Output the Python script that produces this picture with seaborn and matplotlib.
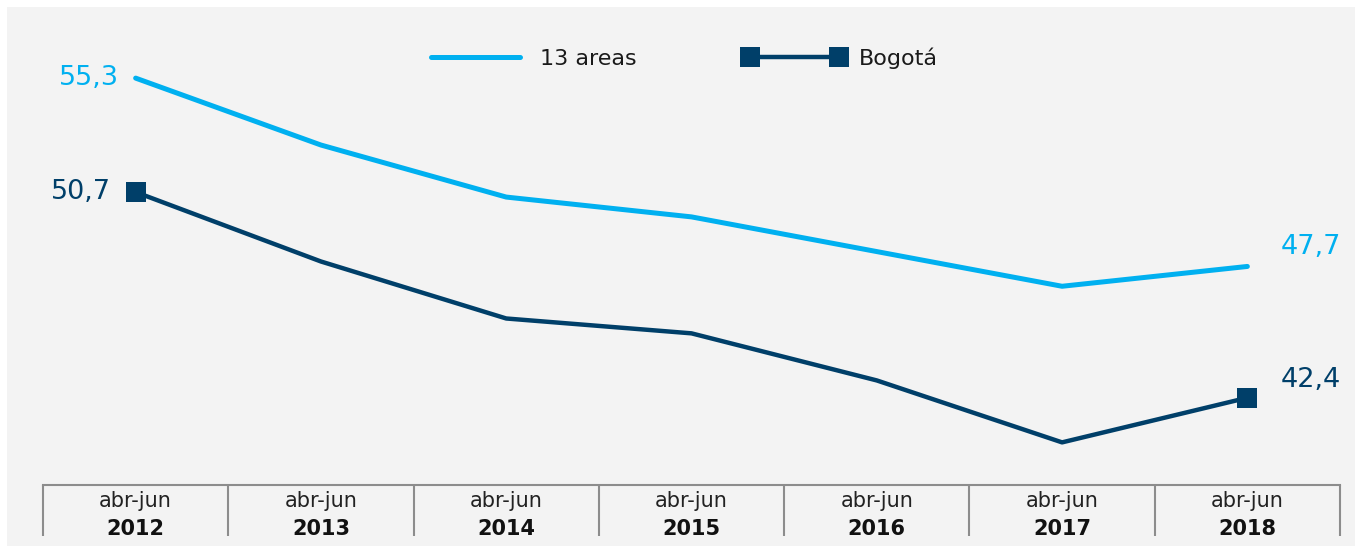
import pandas as pd
import seaborn as sns
import matplotlib.pyplot as plt
from matplotlib.patches import Rectangle

# Data
periods = ["abr-jun"] * 7
years = ["2012", "2013", "2014", "2015", "2016", "2017", "2018"]
areas13 = [55.3, 52.6, 50.5, 49.7, 48.3, 46.9, 47.7]
bogota = [50.7, 47.9, 45.6, 45.0, 43.1, 40.6, 42.4]

light_blue = "#00b0f0"
dark_blue = "#003f69"
grid_gray = "#8c8c8c"

df = pd.DataFrame({"x": range(len(years)), "areas13": areas13, "bogota": bogota})

sns.set_style("white")
plt.rcParams["font.family"] = ["DejaVu Sans"]

fig = plt.figure(figsize=(13.62, 5.53), dpi=100)
fig.patch.set_facecolor("white")
fig.add_artist(Rectangle((7 / 1362, 7 / 553), 1348 / 1362, 539 / 553,
                         transform=fig.transFigure, facecolor="#f3f3f3",
                         edgecolor="none", zorder=-10))

ax = fig.add_axes([43 / 1362, 68 / 553, 1297 / 1362, 478 / 553])
ax.set_facecolor("none")
ax.set_zorder(5)

sns.lineplot(data=df, x="x", y="areas13", ax=ax, color=light_blue, lw=3.6,
             label="13 areas", solid_capstyle="round")
sns.lineplot(data=df, x="x", y="bogota", ax=ax, color=dark_blue, lw=3.2,
             marker="s", markersize=14, markevery=[0, len(years) - 1],
             markeredgewidth=0, label="Bogotá")

ax.set_xlim(-0.5, len(years) - 0.5)
ax.set_ylim(38.88, 58.17)
ax.set_xlabel("")
ax.set_ylabel("")
ax.set_yticks([])

# category boxes along the bottom
ax.set_xticks([i - 0.5 for i in range(len(years) + 1)])
ax.set_xticklabels([])
ax.tick_params(axis="x", bottom=True, length=37, width=1.5, color=grid_gray,
               direction="out")
for s in ["top", "left", "right"]:
    ax.spines[s].set_visible(False)
ax.spines["bottom"].set_color(grid_gray)
ax.spines["bottom"].set_linewidth(1.5)

tr = ax.get_xaxis_transform()
for i, (p, y) in enumerate(zip(periods, years)):
    ax.text(i, -0.033, p, transform=tr, ha="center", va="center",
            fontsize=15, color="#222222", clip_on=False)
    ax.text(i, -0.093, y, transform=tr, ha="center", va="center",
            fontsize=15, fontweight="bold", color="#111111", clip_on=False)

# end labels
def fmt(v):
    return f"{v:.1f}".replace(".", ",")

ax.annotate(fmt(areas13[0]), (0, areas13[0]), xytext=(-12, 0),
            textcoords="offset points", ha="right", va="center",
            fontsize=19.5, color=light_blue)
ax.annotate(fmt(bogota[0]), (0, bogota[0]), xytext=(-18, 0),
            textcoords="offset points", ha="right", va="center",
            fontsize=19.5, color=dark_blue)
ax.annotate(fmt(areas13[-1]), (len(years) - 1, areas13[-1]), xytext=(24, 14),
            textcoords="offset points", ha="left", va="center",
            fontsize=19.5, color=light_blue)
ax.annotate(fmt(bogota[-1]), (len(years) - 1, bogota[-1]), xytext=(24, 13),
            textcoords="offset points", ha="left", va="center",
            fontsize=19.5, color=dark_blue)

leg = ax.legend(loc="center", bbox_to_anchor=((681 - 43) / 1297, (485 - 58) / 478),
                ncol=2, frameon=False, fontsize=16, handlelength=4.6,
                handletextpad=0.6, columnspacing=4.8, numpoints=2,
                markerscale=1.0)
for t in leg.get_texts():
    t.set_color("#1a1a1a")

fig.savefig("out.png", dpi=100, facecolor=fig.get_facecolor())
